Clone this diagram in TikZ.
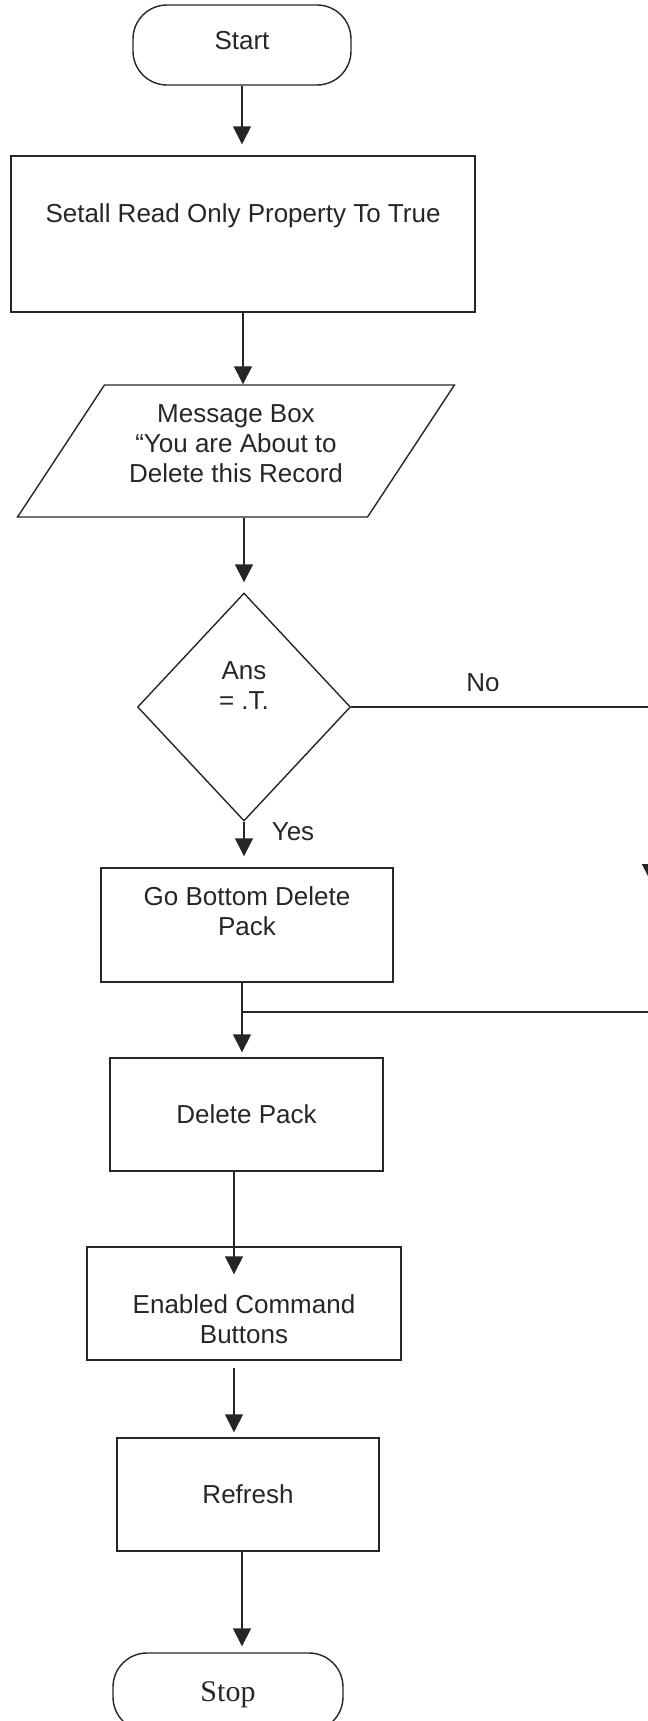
\documentclass[tikz,border=0pt]{standalone}
\usepackage{fontspec}
\setmainfont{Liberation Sans}
\newfontfamily\stopfont{Liberation Serif}
\usetikzlibrary{arrows.meta,shapes.geometric}
\definecolor{flowink}{HTML}{262626}

\begin{document}
\begin{tikzpicture}[x=0.5pt,y=-0.5pt,
 every node/.style={font=\fontsize{13}{15}\selectfont,text=flowink},
 term/.style={draw=flowink,line width=0.7pt,rectangle,rounded corners=17pt,inner sep=0pt},
 proc/.style={draw=flowink,line width=0.7pt,rectangle,align=center,inner sep=0pt},
 io/.style={draw=flowink,line width=0.7pt,trapezium,trapezium left angle=54,
 trapezium right angle=126,trapezium stretches=true,align=center,inner sep=0pt},
 decision/.style={draw=flowink,line width=0.7pt,diamond,align=center,inner sep=0pt},
 flow/.style={->,draw=flowink,line width=0.7pt,>={Triangle[length=9pt,width=9pt]}},
 link/.style={draw=flowink,line width=0.7pt}]
\useasboundingbox (0,0) rectangle (648,1721);
\node[term,minimum width=109pt,minimum height=40pt,text height=9.4pt,text depth=5pt] (start) at (242,45) {Start};
\node[proc,minimum width=232pt,minimum height=78pt,text height=10pt,text depth=21.6pt] (setall) at (243,234) {Setall Read Only Property To True};
\node[io,minimum width=218.5pt,minimum height=66pt,text height=40pt,text depth=8.6pt] (msg) at (236,451) {Message Box\\“You are About to\\Delete this Record};
\node[decision,minimum width=106.5pt,minimum height=114pt,text height=25pt,text depth=22.6pt] (ans) at (244,707) {Ans\\= .T.};
\node[proc,minimum width=146pt,minimum height=57pt,text height=25pt,text depth=14.1pt] (gobot) at (247,925) {Go Bottom Delete\\Pack};
\node[proc,minimum width=136.5pt,minimum height=56.5pt] (delpack) at (246.5,1114.5) {Delete Pack};
\node[proc,minimum width=157pt,minimum height=56.5pt,text height=45pt,text depth=5.1pt] (enab) at (244,1303.5) {Enabled Command\\Buttons};
\node[proc,minimum width=131pt,minimum height=56.5pt] (refresh) at (248,1494.5) {Refresh};
\node[term,minimum width=115pt,minimum height=39pt,font=\stopfont\fontsize{15}{18}\selectfont,text depth=0pt] (stop) at (228,1692) {Stop};
\node (no) at (483,683) {No};
\node (yes) at (293,832) {Yes};
\coordinate (noturn) at (651,707);
\coordinate (nodown) at (651,882);
\coordinate (nojoin) at (651,1012);
\coordinate (join) at (242,1012);
\draw[flow,shorten >=5.5pt] (start.south) -- (start.south |- setall.north);
\draw[flow] (setall.south) -- (setall.south |- msg.north);
\draw[flow,shorten >=5pt] (ans.north |- msg.south) -- (ans.north);
\draw[flow,shorten >=5.5pt] (ans.south) -- (ans.south |- gobot.north);
\draw[link] (join |- gobot.south) -- (join);
\draw[flow,shorten >=2.5pt] (join) -- (join |- delpack.north);
\draw[link] (ans.east) -- (noturn);
\draw[flow] (noturn) -- (nodown);
\draw[link] (nodown) -- (nojoin) -- (join);
\draw[flow,shorten >=-14pt] ([xshift=-6.25pt]delpack.south) -- ([xshift=-6.25pt]delpack.south |- enab.north);
\draw[flow,shorten <=3.5pt,shorten >=2.5pt] ([xshift=-5pt]enab.south) -- ([xshift=-5pt]enab.south |- refresh.north);
\draw[flow,shorten >=3pt] ([xshift=-3pt]refresh.south) -- ([xshift=-3pt]refresh.south |- stop.north);
\end{tikzpicture}
\end{document}
